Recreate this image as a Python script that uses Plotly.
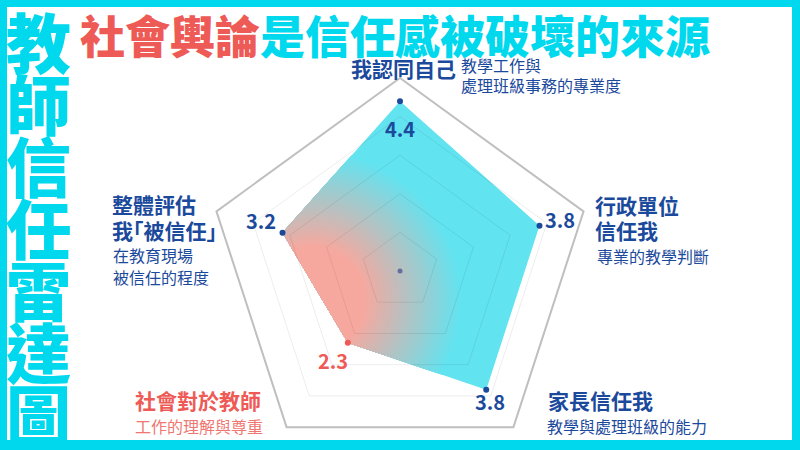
import numpy as np
import plotly.graph_objects as go

# radar data
categories = ["我認同自己", "行政單位信任我", "家長信任我", "社會對於教師", "整體評估我｢被信任｣"]
values = [4.4, 3.8, 3.8, 2.3, 3.2]
value_labels = ["4.4", "3.8", "3.8", "2.3", "3.2"]
grid_levels = [1, 2, 3, 4, 5]
r_max = 5

BLUE = "#1b4a9c"
RED = "#ee5a55"
RED_LIGHT = "#f07671"
CYAN = "#00d8ee"
FONT = "Noto Sans CJK TC"
PINK_FILL = (247, 168, 158)
CYAN_FILL = (98, 227, 240)

W, H = 800, 450
cx, cy = 400, 271          # centre of the radar in pixels
unit = 193 / r_max         # pixels per value unit


def px(x):
    return x / W


def py(y):
    return 1 - y / H


n = len(categories)
theta = np.deg2rad(90 - 72 * np.arange(n))   # clockwise from the top


def ring(r):
    rr = np.append(np.full(n, r, dtype=float), r)
    t = np.append(theta, theta[0])
    return rr * np.cos(t), rr * np.sin(t)


vals = np.array(values)
xs = vals * np.cos(theta)
ys = vals * np.sin(theta)


def clip_convex(poly, clipper):
    # Sutherland-Hodgman, clipper is a counter-clockwise convex polygon
    out = poly
    m = len(clipper)
    for k in range(m):
        a, b = clipper[k], clipper[(k + 1) % m]
        inp, out = out, []
        if not inp:
            break

        def side(p):
            return (b[0] - a[0]) * (p[1] - a[1]) - (b[1] - a[1]) * (p[0] - a[0])

        for j in range(len(inp)):
            p, q = inp[j], inp[(j + 1) % len(inp)]
            sp, sq = side(p), side(q)
            if sp >= 0:
                out.append(p)
            if (sp >= 0) != (sq >= 0):
                t = sp / (sp - sq)
                out.append((p[0] + t * (q[0] - p[0]), p[1] + t * (q[1] - p[1])))
    return out


fig = go.Figure()

# radial gradient fill: pink around the lower-left, cyan further out
g_cx, g_cy = -2.3, -0.75      # gradient centre (value units)
r_in, r_out = 1.4, 3.9        # pink inside r_in, cyan beyond r_out
poly = list(zip(xs, ys))
radii = [10.0] + list(np.linspace(r_out, r_in, 45))
circ = np.linspace(0, 2 * np.pi, 73)[:-1]
for k, rad in enumerate(radii):
    t = min(max((rad - r_in) / (r_out - r_in), 0), 1)
    col = [round(a + (b - a) * t) for a, b in zip(PINK_FILL, CYAN_FILL)]
    disk = [(g_cx + rad * np.cos(a), g_cy + rad * np.sin(a)) for a in circ]
    part = clip_convex(poly, disk)
    if len(part) < 3:
        continue
    fx, fy = zip(*part)
    fig.add_trace(go.Scatter(
        x=list(fx) + [fx[0]], y=list(fy) + [fy[0]], mode="lines",
        fill="toself", fillcolor="rgb(%d,%d,%d)" % tuple(col),
        line=dict(width=0), hoverinfo="skip",
    ))

# grid pentagons
for lev in grid_levels:
    gx, gy = ring(lev)
    outer = lev == r_max
    fig.add_trace(go.Scatter(
        x=gx, y=gy, mode="lines", hoverinfo="skip",
        line=dict(color="#bfbfbf" if outer else "rgba(0,0,0,0.075)", width=2 if outer else 1),
    ))

# centre dot
fig.add_trace(go.Scatter(x=[0], y=[0], mode="markers", hoverinfo="skip",
                         marker=dict(size=5, color="#66709a")))

# vertex markers
marker_colors = [BLUE, BLUE, BLUE, RED, BLUE]
fig.add_trace(go.Scatter(x=xs, y=ys, mode="markers", text=categories,
                         marker=dict(size=6, color=marker_colors)))

annotations = []

# value labels near each vertex
label_shift = [(0, -27), (20, 6), (4, -12), (-15, -18), (-22, 12)]
for i, lab in enumerate(value_labels):
    annotations.append(dict(
        x=xs[i], y=ys[i], xref="x", yref="y", text="<b>" + lab + "</b>",
        xshift=label_shift[i][0], yshift=label_shift[i][1], showarrow=False,
        font=dict(family=FONT, size=20, color=marker_colors[i]),
    ))

# axis labels
texts = [
    ("我認同自己", 349, 68, 21, BLUE, True),
    ("教學工作與", 459, 65, 16, BLUE, False),
    ("處理班級事務的專業度", 459, 85, 16, BLUE, False),
    ("行政單位", 593, 205, 21, BLUE, True),
    ("信任我", 593, 230, 21, BLUE, True),
    ("專業的教學判斷", 595, 256, 16, BLUE, False),
    ("家長信任我", 546, 400, 21, BLUE, True),
    ("教學與處理班級的能力", 545, 426, 16, BLUE, False),
    ("社會對於教師", 133, 400, 21, RED, True),
    ("工作的理解與尊重", 133, 426, 16, RED_LIGHT, False),
    ("整體評估", 110, 204, 21, BLUE, True),
    ("我｢被信任｣", 110, 230, 21, BLUE, True),
    ("在教育現場", 111, 255, 16, BLUE, False),
    ("被信任的程度", 111, 277, 16, BLUE, False),
]
for t, x, y, size, col, bold in texts:
    annotations.append(dict(
        x=px(x), y=py(y), xref="paper", yref="paper", xanchor="left", yanchor="middle",
        text="<b>" + t + "</b>" if bold else t, showarrow=False,
        font=dict(family=FONT, size=size, color=col),
    ))

# headline
annotations.append(dict(
    x=px(78), y=1, xref="paper", yref="paper", xanchor="left", yanchor="top",
    text="<span style='color:%s'>社會輿論</span>是信任感被破壞的來源" % RED,
    showarrow=False, font=dict(family=FONT, size=45, color=CYAN, weight=900),
))

# vertical title
side_title = "教師信任雷達圖"
for i, ch in enumerate(side_title):
    annotations.append(dict(
        x=px(38), y=py(40 + 62 * i), xref="paper", yref="paper",
        xanchor="center", yanchor="middle", text=ch, showarrow=False,
        font=dict(family=FONT, size=65, color=CYAN, weight=900),
    ))

fig.update_layout(
    width=W, height=H,
    margin=dict(l=0, r=0, t=0, b=0),
    paper_bgcolor=CYAN,
    plot_bgcolor="rgba(0,0,0,0)",
    showlegend=False,
    xaxis=dict(range=[-cx / unit, (W - cx) / unit], visible=False, fixedrange=True),
    yaxis=dict(range=[-(H - cy) / unit, cy / unit], visible=False, fixedrange=True),
    shapes=[dict(type="rect", xref="paper", yref="paper", layer="below",
                 x0=px(7), x1=px(792), y0=py(440), y1=py(7),
                 fillcolor="white", line=dict(width=0))],
    annotations=annotations,
)

fig.write_html("out.html", config={"displayModeBar": False},
               post_script="document.body.style.margin='0';")
